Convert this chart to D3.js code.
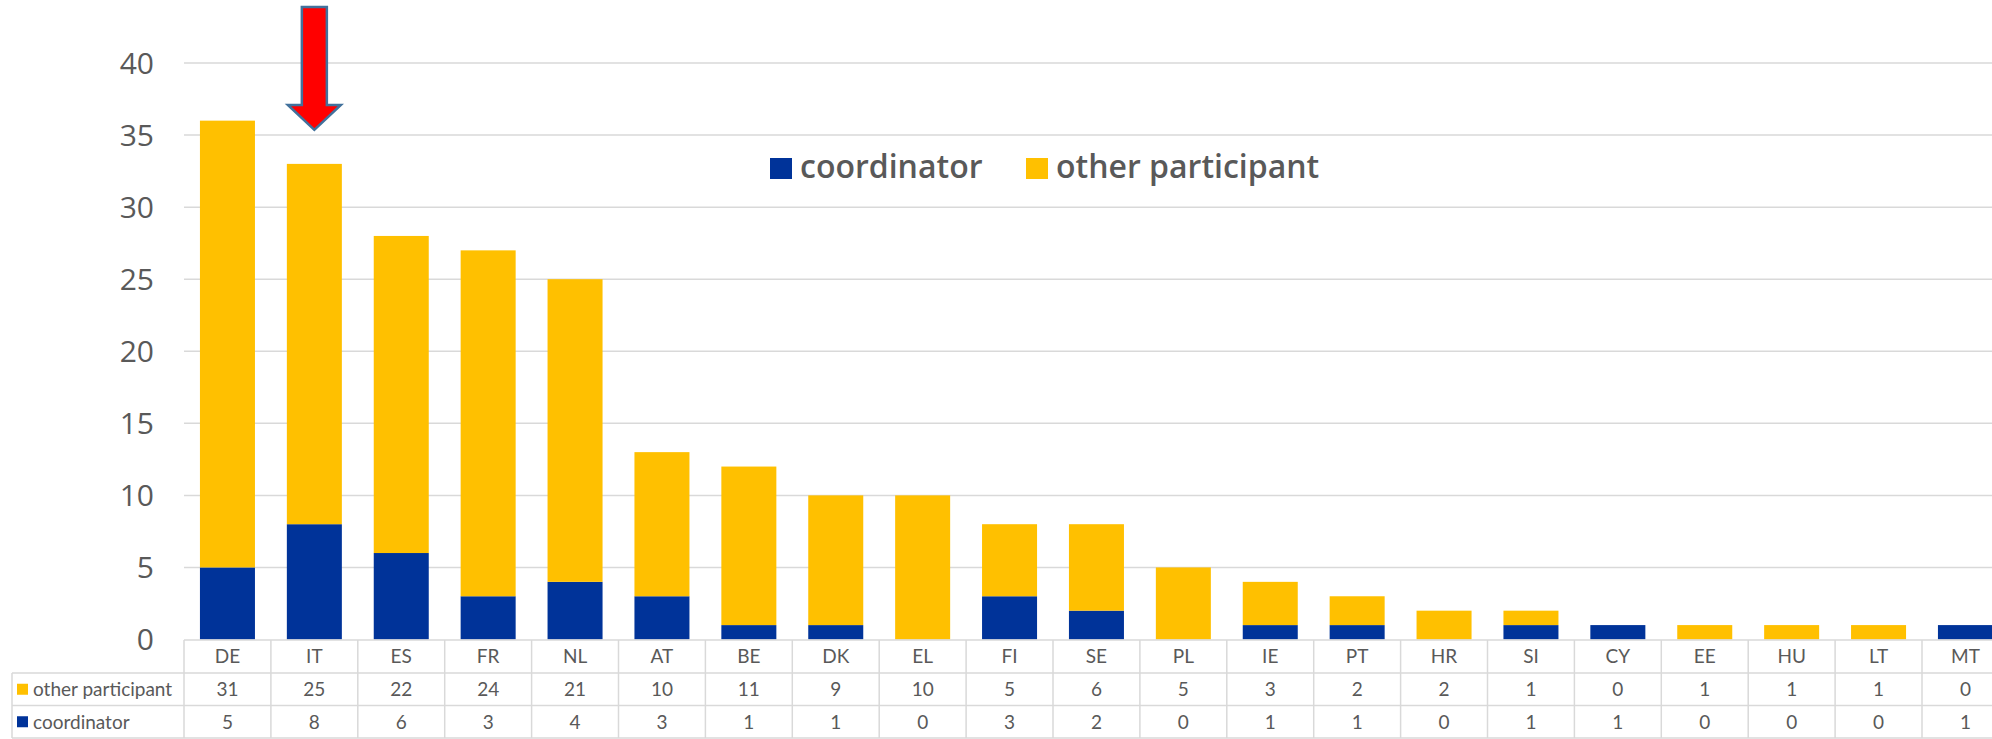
<!DOCTYPE html>
<meta charset="utf-8">
<head>
    <style>
        body { margin: 0; background: #fff; }
        text { fill: #595959; }
        .grid line { stroke: #d9d9d9; stroke-width: 1.5px; }
        .axis text { font-family: "Open Sans", sans-serif; font-size: 30px; }
        .legend text { font-family: "Open Sans", sans-serif; font-size: 32px; font-weight: 600; }
        .table line { stroke: #d9d9d9; stroke-width: 1.5px; }
        .table text { font-family: Lato, sans-serif; font-size: 19px; }
    </style>
</head>
<body>
<svg width="1992" height="739"></svg>
<script src="https://d3js.org/d3.v7.min.js"></script>
<script>

    // data
    var countries = ["DE", "IT", "ES", "FR", "NL", "AT", "BE", "DK", "EL", "FI", "SE",
        "PL", "IE", "PT", "HR", "SI", "CY", "EE", "HU", "LT", "MT"];
    var otherParticipant = [31, 25, 22, 24, 21, 10, 11, 9, 10, 5, 6, 5, 3, 2, 2, 1, 0, 1, 1, 1, 0];
    var coordinator = [5, 8, 6, 3, 4, 3, 1, 1, 0, 3, 2, 0, 1, 1, 0, 1, 1, 0, 0, 0, 1];
    var yTicks = [0, 5, 10, 15, 20, 25, 30, 35, 40];
    var highlight = "IT";

    var colBlue = "#003399",
        colYellow = "#ffc000";

    var svg = d3.select("svg"),
        width = +svg.attr("width"),
        height = +svg.attr("height");

    var left = 184, step = 86.9;
    var x = d3.scaleBand()
        .domain(countries)
        .range([left, left + countries.length * step])
        .padding(0);
    var barW = x.bandwidth() * 0.633;

    var y = d3.scaleLinear()
        .domain([0, 40])
        .range([639.5, 63]);

    // gridlines + y labels
    var grid = svg.append("g").attr("class", "grid");
    grid.selectAll("line")
        .data(yTicks.filter(function (d) { return d > 0; }))
        .enter().append("line")
        .attr("x1", left).attr("x2", width)
        .attr("y1", function (d) { return y(d); })
        .attr("y2", function (d) { return y(d); });

    svg.append("g").attr("class", "axis")
        .selectAll("text")
        .data(yTicks)
        .enter().append("text")
        .attr("x", 154)
        .attr("y", function (d) { return y(d); })
        .attr("dy", "0.36em")
        .attr("text-anchor", "end")
        .text(function (d) { return d; });

    // stacked bars
    var rows = countries.map(function (c, i) {
        return { country: c, coordinator: coordinator[i], other: otherParticipant[i] };
    });
    var stack = d3.stack().keys(["coordinator", "other"])(rows);
    var colors = { coordinator: colBlue, other: colYellow };

    svg.append("g")
        .selectAll("g")
        .data(stack)
        .enter().append("g")
        .attr("fill", function (d) { return colors[d.key]; })
        .selectAll("rect")
        .data(function (d) { return d; })
        .enter().append("rect")
        .attr("x", function (d) { return x(d.data.country) + (x.bandwidth() - barW) / 2; })
        .attr("width", barW)
        .attr("y", function (d) { return y(d[1]); })
        .attr("height", function (d) { return y(d[0]) - y(d[1]); });

    // legend
    var legend = svg.append("g").attr("class", "legend");
    var legendItems = [
        { label: "coordinator", color: colBlue, x: 770 },
        { label: "other participant", color: colYellow, x: 1026 }
    ];
    legendItems.forEach(function (d) {
        legend.append("rect")
            .attr("x", d.x).attr("y", 158)
            .attr("width", 22).attr("height", 21)
            .attr("fill", d.color);
        legend.append("text")
            .attr("x", d.x + 30).attr("y", 178)
            .text(d.label);
    });

    // data table under the axis
    var t0 = 640, t1 = 673, t2 = 705.5, t3 = 738, tLeft = 12;
    var right = left + countries.length * step;
    var table = svg.append("g").attr("class", "table");

    table.append("line").attr("x1", left).attr("x2", right).attr("y1", t0).attr("y2", t0);
    [t1, t2, t3].forEach(function (ty) {
        table.append("line").attr("x1", tLeft).attr("x2", right).attr("y1", ty).attr("y2", ty);
    });
    table.append("line").attr("x1", tLeft).attr("x2", tLeft).attr("y1", t1).attr("y2", t3);
    table.selectAll(".vline")
        .data(countries.concat(["end"]))
        .enter().append("line")
        .attr("class", "vline")
        .attr("x1", function (d, i) { return left + i * step; })
        .attr("x2", function (d, i) { return left + i * step; })
        .attr("y1", t0).attr("y2", t3);

    var tableRows = [
        { y: (t0 + t1) / 2, values: countries },
        { y: (t1 + t2) / 2, values: otherParticipant, label: "other participant", color: colYellow },
        { y: (t2 + t3) / 2, values: coordinator, label: "coordinator", color: colBlue }
    ];
    tableRows.forEach(function (r) {
        table.selectAll(null)
            .data(r.values)
            .enter().append("text")
            .attr("x", function (d, i) { return x(countries[i]) + x.bandwidth() / 2; })
            .attr("y", r.y)
            .attr("dy", "0.36em")
            .attr("text-anchor", "middle")
            .text(function (d) { return d; });
        if (r.label) {
            table.append("rect")
                .attr("x", 17).attr("y", r.y - 5.5)
                .attr("width", 11).attr("height", 11)
                .attr("fill", r.color);
            table.append("text")
                .attr("x", 33).attr("y", r.y)
                .attr("dy", "0.36em")
                .text(r.label);
        }
    });

    // red arrow pointing at the highlighted bar
    var cx = x(highlight) + x.bandwidth() / 2,
        i = countries.indexOf(highlight),
        tip = y(coordinator[i] + otherParticipant[i]) - 34;
    var arrow = [
        [cx - 12.5, 7], [cx + 12.5, 7], [cx + 12.5, tip - 25], [cx + 26.5, tip - 25],
        [cx, tip], [cx - 26.5, tip - 25], [cx - 12.5, tip - 25]
    ];
    svg.append("polygon")
        .attr("points", arrow.map(function (p) { return p.join(","); }).join(" "))
        .attr("fill", "#ff0000")
        .attr("stroke", "#41719c")
        .attr("stroke-width", 2.5)
        .attr("stroke-linejoin", "miter");

</script>
</body>
